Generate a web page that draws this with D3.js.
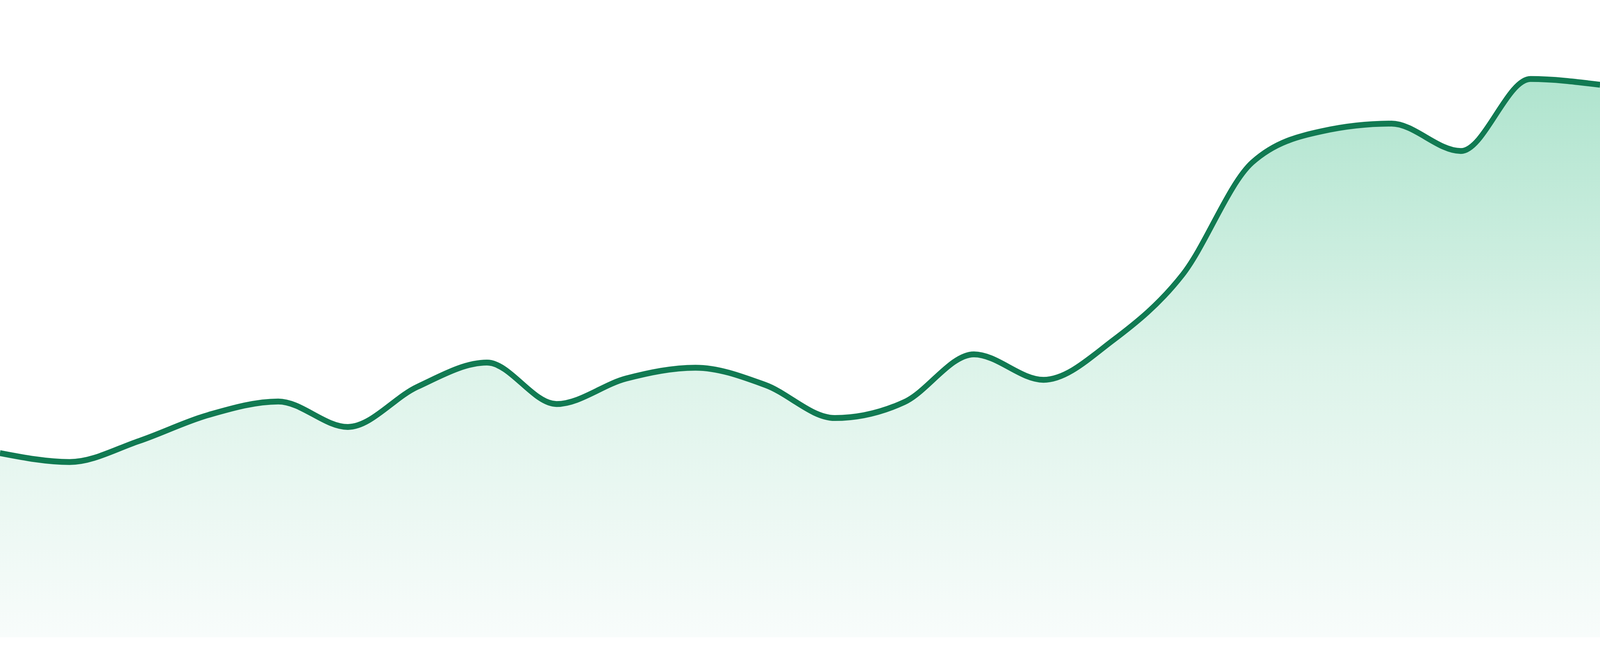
<!DOCTYPE html>
<html>
<head>
<meta charset="utf-8">
<script src="https://cdn.jsdelivr.net/npm/d3@7"></script>
<style>
  html, body { margin: 0; padding: 0; background: #fff; overflow: hidden; width: 100%; height: 100%; }
  svg { display: block; width: 100vw; height: 100vh; }
</style>
</head>
<body>
<svg id="chart"></svg>
<script>
// hourly points
const hours = ['00:00', '01:00', '02:00', '03:00', '04:00', '05:00', '06:00', '07:00',
  '08:00', '09:00', '10:00', '11:00', '12:00', '13:00', '14:00', '15:00',
  '16:00', '17:00', '18:00', '19:00', '20:00', '21:00', '22:00', '23:00'];
const values = [28.9, 27.5, 30.8, 34.9, 37.0, 33.0, 39.3, 43.1,
  36.6, 40.6, 42.3, 39.6, 34.4, 36.9, 44.4, 40.4,
  46.6, 56.9, 74.5, 79.4, 80.6, 76.3, 87.6, 86.7];
const yDomain = [0, 100];

// drawing units; the svg is scaled to the window with a viewBox
const width = 4800;
const height = 1680;
const margin = { top: 0, right: 0, bottom: 48, left: 0 };
const innerW = width - margin.left - margin.right;
const innerH = height - margin.top - margin.bottom;

const data = hours.map((h, i) => ({ hour: h, value: values[i] }));

const svg = d3.select('#chart')
  .attr('viewBox', `0 0 ${width} ${height}`)
  .attr('preserveAspectRatio', 'none');

// Fill gradient, fades out quickly then slowly toward the bottom
const defs = svg.append('defs');
const grad = defs.append('linearGradient')
  .attr('id', 'areaFill')
  .attr('x1', 0).attr('y1', 0)
  .attr('x2', 0).attr('y2', 1);
grad.append('stop').attr('offset', '0%').attr('stop-color', '#afe4ce');
grad.append('stop').attr('offset', '50%').attr('stop-color', '#dcf3e9');
grad.append('stop').attr('offset', '100%').attr('stop-color', '#f8fcfb');

const g = svg.append('g')
  .attr('transform', `translate(${margin.left},${margin.top})`);

const xScale = d3.scalePoint()
  .domain(hours)
  .range([0, innerW]);

const yScale = d3.scaleLinear()
  .domain(yDomain)
  .range([innerH, 0]);

// Area under the line
const area = d3.area()
  .x(d => xScale(d.hour))
  .y0(innerH)
  .y1(d => yScale(d.value))
  .curve(d3.curveMonotoneX);

g.append('path')
  .datum(data)
  .attr('fill', 'url(#areaFill)')
  .attr('d', area);

// Line
const line = d3.line()
  .x(d => xScale(d.hour))
  .y(d => yScale(d.value))
  .curve(d3.curveMonotoneX);

g.append('path')
  .datum(data)
  .attr('fill', 'none')
  .attr('stroke', '#117a52')
  .attr('stroke-width', 15)
  .attr('stroke-linejoin', 'round')
  .attr('d', line);
</script>
</body>
</html>
